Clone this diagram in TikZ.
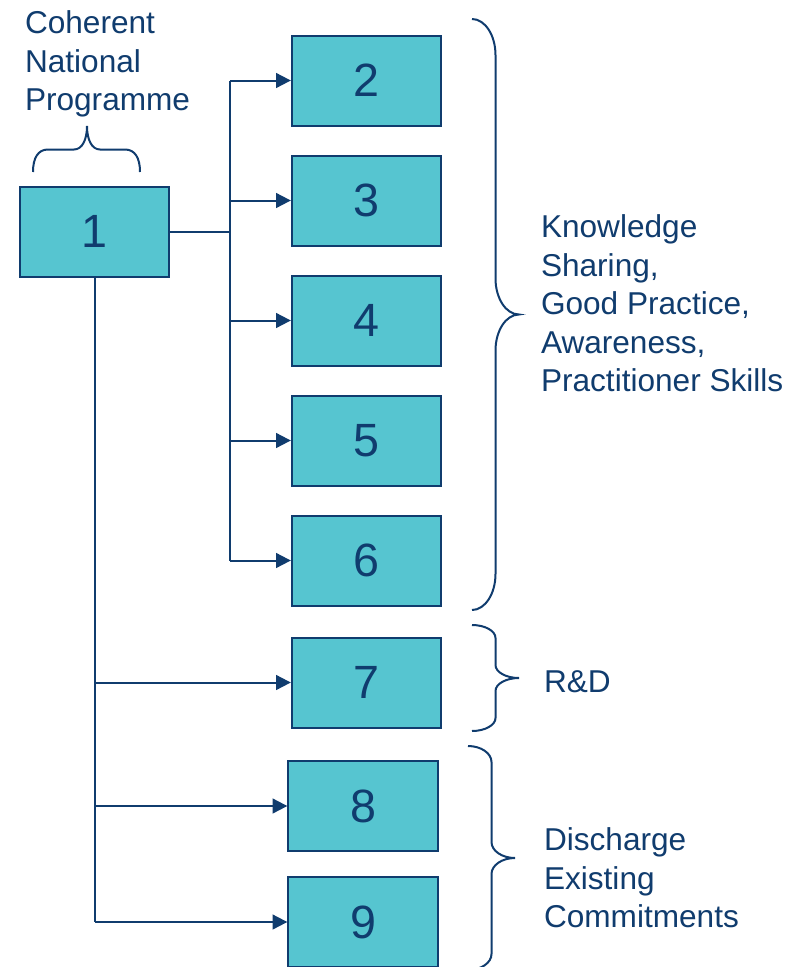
\documentclass[tikz,border=0pt]{standalone}
\usepackage{fontspec}
\setmainfont{Liberation Sans}
\usetikzlibrary{arrows.meta,positioning}
\definecolor{navy}{RGB}{16,60,110}
\definecolor{boxfill}{RGB}{86,197,208}
\tikzstyle{box}=[rectangle,draw=navy,line width=1.5pt,fill=boxfill,
  minimum width=112pt,minimum height=67.5pt,inner sep=0pt,text=navy,
  font=\fontsize{35}{40}\selectfont]
\tikzstyle{remark}=[align=left,text=navy,inner sep=0pt,
  font=\fontsize{23.7}{28.8}\selectfont]
\tikzstyle{bracket}=[draw=navy,line width=1.5pt]
% curly bracket pointing right: x, top, bottom, curl length
\newcommand{\vbracket}[4]{%
  \pgfmathsetmacro{\bmid}{(#2+#3)/2}
  \draw[bracket] (#1,#2) .. controls (#1+13,#2) and (#1+23.5,#2+0.45*#4) .. (#1+23.5,#2+#4)
    -- (#1+23.5,\bmid-#4) .. controls (#1+23.5,\bmid-0.45*#4) and (#1+34,\bmid) .. (#1+47,\bmid)
    .. controls (#1+34,\bmid) and (#1+23.5,\bmid+0.45*#4) .. (#1+23.5,\bmid+#4)
    -- (#1+23.5,#3-#4) .. controls (#1+23.5,#3-0.45*#4) and (#1+13,#3) .. (#1,#3);}

\begin{document}
\begin{tikzpicture}[x=0.75pt,y=-0.75pt,>={Triangle[length=11pt,width=11pt]},
    line width=1.5pt,draw=navy]
    \useasboundingbox (0,0) rectangle (800,967);

    \node[box] (b1) at (94.5,231.5) {1};
    \node[box] (b2) at (366.5,80.5) {2};
    \node[box] (b3) [below=21pt of b2] {3};
    \node[box] (b4) [below=21pt of b3] {4};
    \node[box] (b5) [below=21pt of b4] {5};
    \node[box] (b6) [below=21pt of b5] {6};
    \node[box] (b7) [below=22.5pt of b6] {7};
    \node[box] (b8) at (363,806) {8};
    \node[box] (b9) [below=18pt of b8] {9};

    \coordinate (fork) at (230,231.5);
    \coordinate (trunk) at (94.5,920);

    % upper fan
    \draw[navy] (b1) -- (fork);
    \draw[navy] (fork |- b2) -- (fork |- b6);
    \foreach \n in {2,...,6}
      \draw[navy,->] (fork |- b\n) -- (b\n);

    % lower fan
    \draw[navy] (b1) -- (trunk |- b9);
    \foreach \n in {7,8,9}
      \draw[navy,->] (trunk |- b\n) -- (b\n);

    % brackets
    \draw[bracket] (33,172) .. controls (33,158) and (38,149.5) .. (48,149.5)
      -- (74,149.5) .. controls (82,149.5) and (87,140) .. (87,126)
      .. controls (87,140) and (92,149.5) .. (100,149.5)
      -- (125,149.5) .. controls (135,149.5) and (140,158) .. (140,172);
    \vbracket{472}{19}{610}{36}
    \vbracket{472}{625}{731}{13}
    \vbracket{468}{746}{970}{16}

    \node[remark,anchor=north west] (cnp) at (24,10) {Coherent\\National\\Programme};
    \node[remark,anchor=north west] (ksh) at (540,214) {Knowledge\\Sharing,\\Good Practice,\\Awareness,\\Practitioner Skills};
    \node[remark,anchor=base west] (rnd) at (543,692) {R\&D};
    \node[remark,anchor=north west] (dec) at (543,827) {Discharge\\Existing\\Commitments};
\end{tikzpicture}
\end{document}
